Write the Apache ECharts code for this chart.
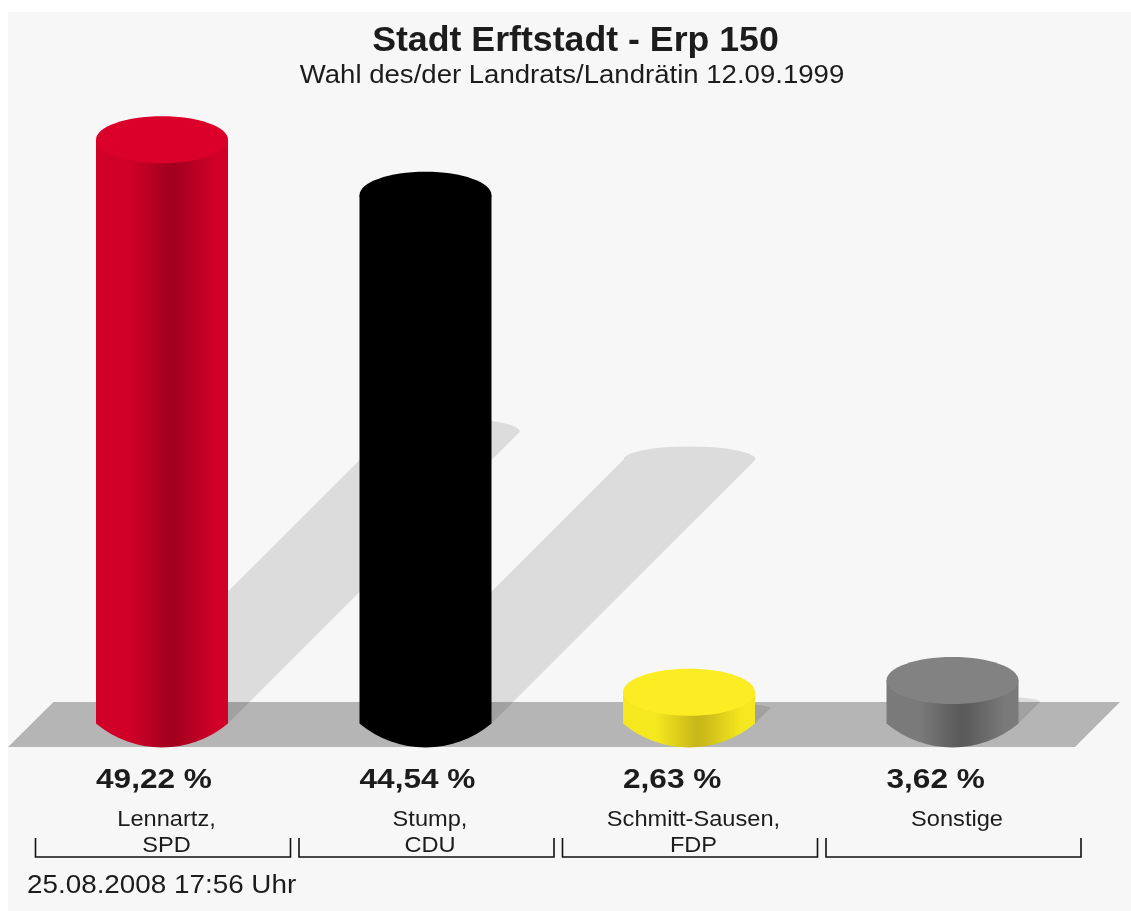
<!DOCTYPE html>
<html><head><meta charset="utf-8">
<style>html,body{margin:0;padding:0;background:#fff}#c{width:1131px;height:911px}</style>
<script src="https://cdn.jsdelivr.net/npm/echarts@6/dist/echarts.min.js"></script>
</head><body><div id="c"></div>
<script>
const titleText = 'Stadt Erftstadt - Erp 150';
const subtitleText = 'Wahl des/der Landrats/Landrätin 12.09.1999';
const stampText = '25.08.2008 17:56 Uhr';
const categories = ['Lennartz,\nSPD', 'Stump,\nCDU', 'Schmitt-Sausen,\nFDP', 'Sonstige'];
const values = [49.22, 44.54, 2.63, 3.62];
const valueLabels = ['49,22 %', '44,54 %', '2,63 %', '3,62 %'];
// [edge, dark band, top face]
const palette = [
  ['#d00028', '#a3001f', '#da0029'],
  ['#000000', '#000000', '#000000'],
  ['#f5e81e', '#c9b81a', '#fbec24'],
  ['#7a7a7a', '#5a5a5a', '#828282']
];
const STRETCH = 1.05, R = 66, RY = 23.5, SAG = 24, SHADOW_K = 0.5;
const ARC_R = (R * R + SAG * SAG) / (2 * SAG);
const chart = echarts.init(document.getElementById('c'), null, {renderer: 'canvas'});
const FONT = '"Liberation Sans", Arial, Helvetica, sans-serif', INK = '#1c1c1c';

function shadowItem(params, api) {
  const i = api.value(0), base = api.coord([i, 0]), top = api.coord([i, api.value(1)]);
  const d = (base[1] - top[1]) * SHADOW_K, x = base[0], y = base[1];
  const ry = Math.min(13, d * 0.3);
  const path = 'M' + (x - R) + ' ' + y +
    'L' + (x - R + d) + ' ' + (y - d) +
    'A' + R + ' ' + ry + ' 0 0 1 ' + (x + R + d) + ' ' + (y - d) +
    'L' + (x + R) + ' ' + y + 'Z';
  return {type: 'path', shape: {pathData: path}, style: {fill: 'rgba(0,0,0,0.105)'}};
}
function cylinderItem(params, api) {
  const i = api.value(0), base = api.coord([i, 0]), top = api.coord([i, api.value(1)]);
  const x = base[0], c = palette[i];
  const path = 'M' + (x - R) + ' ' + top[1] +
    'L' + (x - R) + ' ' + base[1] +
    'A' + ARC_R + ' ' + ARC_R + ' 0 0 0 ' + (x + R) + ' ' + base[1] +
    'L' + (x + R) + ' ' + top[1] + 'Z';
  return {type: 'group', children: [
    {type: 'path', shape: {pathData: path}, style: {fill: new echarts.graphic.LinearGradient(0, 0, 1, 0, [
      {offset: 0, color: c[0]}, {offset: 0.25, color: c[0]}, {offset: 0.55, color: c[1]}, {offset: 0.6, color: c[1]}, {offset: 0.9, color: c[0]}, {offset: 1, color: c[0]}
    ])}},
    {type: 'ellipse', shape: {cx: x, cy: top[1], rx: R, ry: RY}, style: {fill: c[2]}}
  ]};
}
function labelItem(params, api) {
  const i = api.value(0), base = api.coord([i, 0]), x = base[0];
  const bl = x - 126.5, br = x + 128.5, by0 = base[1] + 114.5, by1 = base[1] + 133.5;
  return {type: 'group', children: [
    {type: 'text', x: x - R, y: base[1] + 57.5, scaleX: 1.17,
      style: {text: valueLabels[i], font: 'bold 27px ' + FONT, fill: INK, textAlign: 'left', textVerticalAlign: 'middle'}},
    {type: 'text', x: x + 4.5, y: base[1] + 83, scaleX: STRETCH,
      style: {text: categories[i], font: '22.5px ' + FONT, lineHeight: 26, fill: INK, align: 'center', verticalAlign: 'top'}},
    {type: 'polyline', shape: {points: [[bl, by0], [bl, by1], [br, by1], [br, by0]]}, style: {stroke: '#111', lineWidth: 1.6, fill: null}}
  ]};
}
function ids() { return values.map((v, i) => [i, v]); }

chart.setOption({
  animation: false,
  backgroundColor: '#ffffff',
  grid: {left: 30.25, width: 1054, top: 130.5, height: 593},
  xAxis: {type: 'category', data: categories, show: false},
  yAxis: {type: 'value', min: 0, max: 50, interval: 10, show: false},
  graphic: [
    {type: 'rect', z: -10, shape: {x: 8, y: 12, width: 1123, height: 899}, style: {fill: '#f7f7f7'}},
    {type: 'polygon', z: -9, shape: {points: [[53.5, 702], [1120, 702], [1075, 747], [8, 747]]}, style: {fill: '#b5b5b5'}},
    {type: 'text', z: 5, x: 575.5, y: 41, scaleX: 1.02, style: {text: titleText, font: 'bold 35px ' + FONT, fill: INK, textAlign: 'center', textVerticalAlign: 'middle'}},
    {type: 'text', z: 5, x: 572, y: 76, scaleX: 1.04, style: {text: subtitleText, font: '26.5px ' + FONT, fill: INK, textAlign: 'center', textVerticalAlign: 'middle'}},
    {type: 'text', z: 5, x: 27, y: 886, scaleX: STRETCH, style: {text: stampText, font: '26.5px ' + FONT, fill: INK, textAlign: 'left', textVerticalAlign: 'middle'}}
  ],
  series: [
    {type: 'custom', z: 1, clip: false, silent: true, data: ids(), encode: {x: 0, y: 1}, renderItem: shadowItem},
    {type: 'custom', z: 2, clip: false, silent: true, data: ids(), encode: {x: 0, y: 1}, renderItem: cylinderItem},
    {type: 'custom', z: 3, clip: false, silent: true, data: ids(), encode: {x: 0, y: 1}, renderItem: labelItem}
  ]
});
</script></body></html>
